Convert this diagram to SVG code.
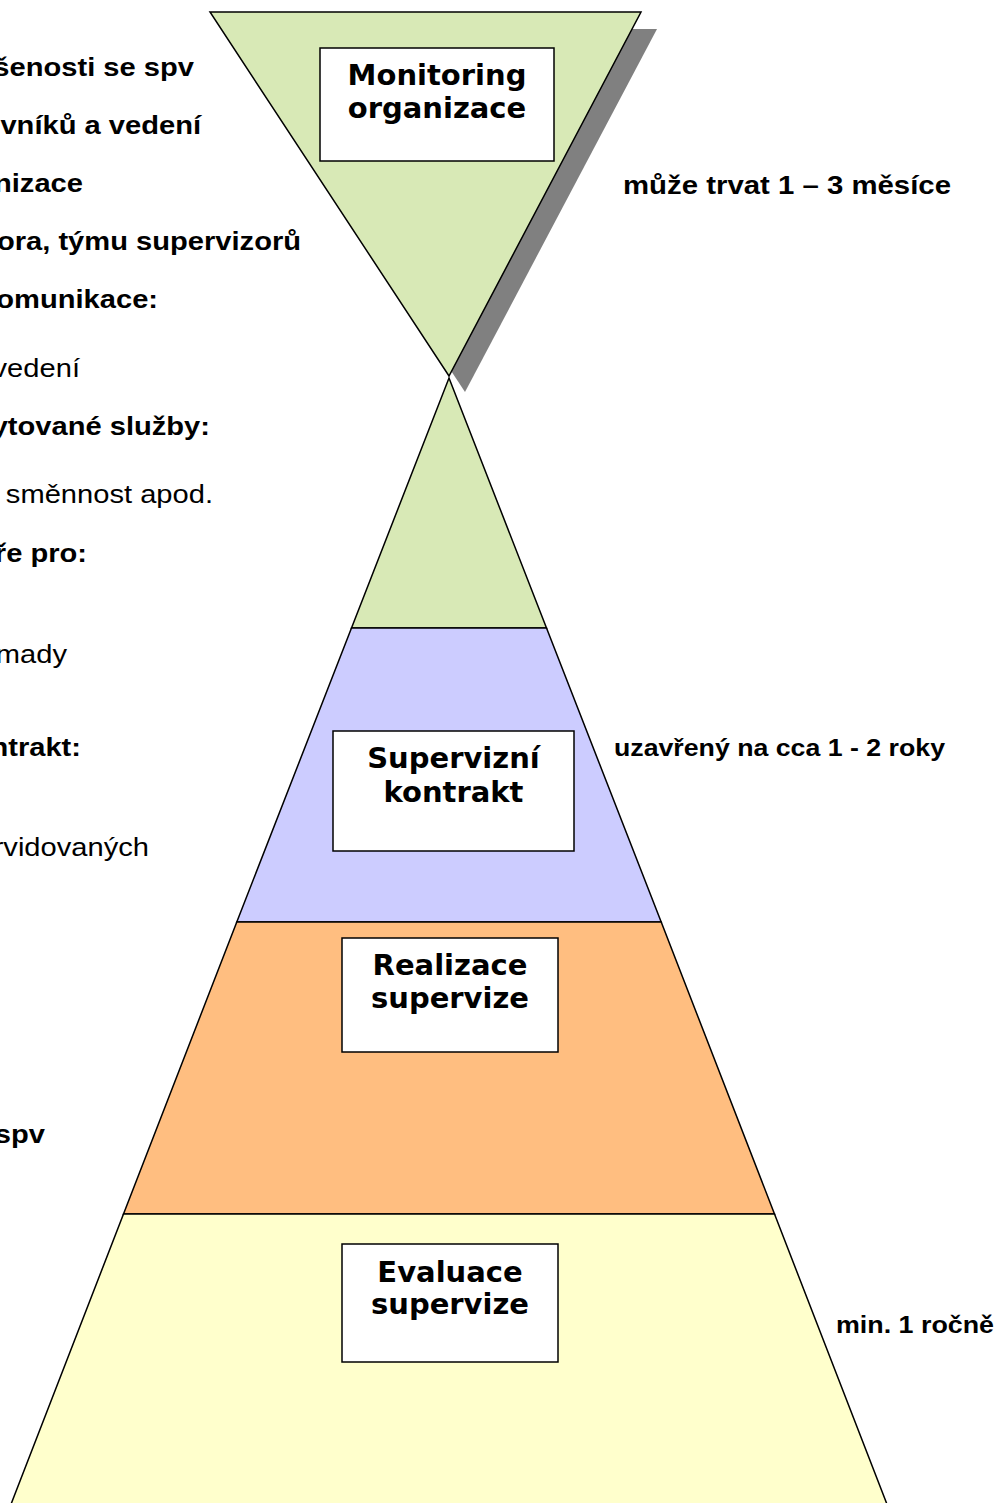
<svg xmlns="http://www.w3.org/2000/svg" width="996" height="1503" viewBox="0 0 996 1503">
<style>
.band{stroke:#000;stroke-width:1.5;stroke-linejoin:miter}
.box{fill:#fff;stroke:#000;stroke-width:1.5}
.title{font-family:"DejaVu Sans",Verdana,sans-serif;font-weight:bold;font-size:29px;fill:#000;text-anchor:middle}
.lt{font-family:"Liberation Sans",Arial,sans-serif;font-size:26px;fill:#000;text-anchor:end}
.b{font-weight:bold}
.rt{font-family:"Liberation Sans",Arial,sans-serif;font-weight:bold;fill:#000}
</style>
<rect width="996" height="1503" fill="#fff"/>
<g id="shadow"><polygon points="226,29 657,29 465,392" fill="#808080"/></g>
<g id="pyramid">
<polygon class="band" points="449,378 546.5,628 351.5,628" fill="#D8E9B6"/>
<polygon class="band" points="351.5,628 546.5,628 661.2,922 236.8,922" fill="#CCCCFF"/>
<polygon class="band" points="236.8,922 661.2,922 774.5,1214 123.5,1214" fill="#FFBE80"/>
<polygon class="band" points="123.5,1214 774.5,1214 890,1512 8,1512" fill="#FFFFCC"/>
</g>
<g id="monitoring">
<polygon class="band" points="210,12 641,12 449,376" fill="#D8E9B6"/>
<rect class="box" x="320" y="48" width="234" height="113"/>
<text class="title" x="437" y="85">Monitoring</text>
<text class="title" x="437" y="118">organizace</text>
</g>
<g id="kontrakt">
<rect class="box" x="333" y="731" width="241" height="120"/>
<text class="title" x="453.5" y="768">Supervizní</text>
<text class="title" x="453.5" y="802">kontrakt</text>
</g>
<g id="realizace">
<rect class="box" x="342" y="938" width="216" height="114"/>
<text class="title" x="450" y="975">Realizace</text>
<text class="title" x="450" y="1008">supervize</text>
</g>
<g id="evaluace">
<rect class="box" x="342" y="1244" width="216" height="118"/>
<text class="title" x="450" y="1282">Evaluace</text>
<text class="title" x="450" y="1314">supervize</text>
</g>
<g id="left-text" transform="scale(1.12,1)">
<text class="lt b" x="173.2" y="76">šenosti se spv</text>
<text class="lt b" x="179.5" y="134">vníků a vedení</text>
<text class="lt b" x="74.1" y="192">nizace</text>
<text class="lt b" x="268.8" y="250">ora, týmu supervizorů</text>
<text class="lt b" x="141.1" y="308">omunikace:</text>
<text class="lt" x="71.4" y="377">vedení</text>
<text class="lt b" x="187.5" y="435">ytované služby:</text>
<text class="lt" x="190.2" y="503">směnnost apod.</text>
<text class="lt b" x="77.7" y="562">ře pro:</text>
<text class="lt" x="59.8" y="663">mady</text>
<text class="lt b" x="72.3" y="756">ntrakt:</text>
<text class="lt" x="133" y="856">rvidovaných</text>
<text class="lt b" x="40.2" y="1143">spv</text>
</g>
<g id="right-labels">
<text class="rt" x="623" y="194" font-size="25" textLength="328" lengthAdjust="spacingAndGlyphs">může trvat 1 – 3 měsíce</text>
<text class="rt" x="614" y="756" font-size="23" textLength="331" lengthAdjust="spacingAndGlyphs">uzavřený na cca 1 - 2 roky</text>
<text class="rt" x="836" y="1333" font-size="23" textLength="158" lengthAdjust="spacingAndGlyphs">min. 1 ročně</text>
</g>
</svg>
